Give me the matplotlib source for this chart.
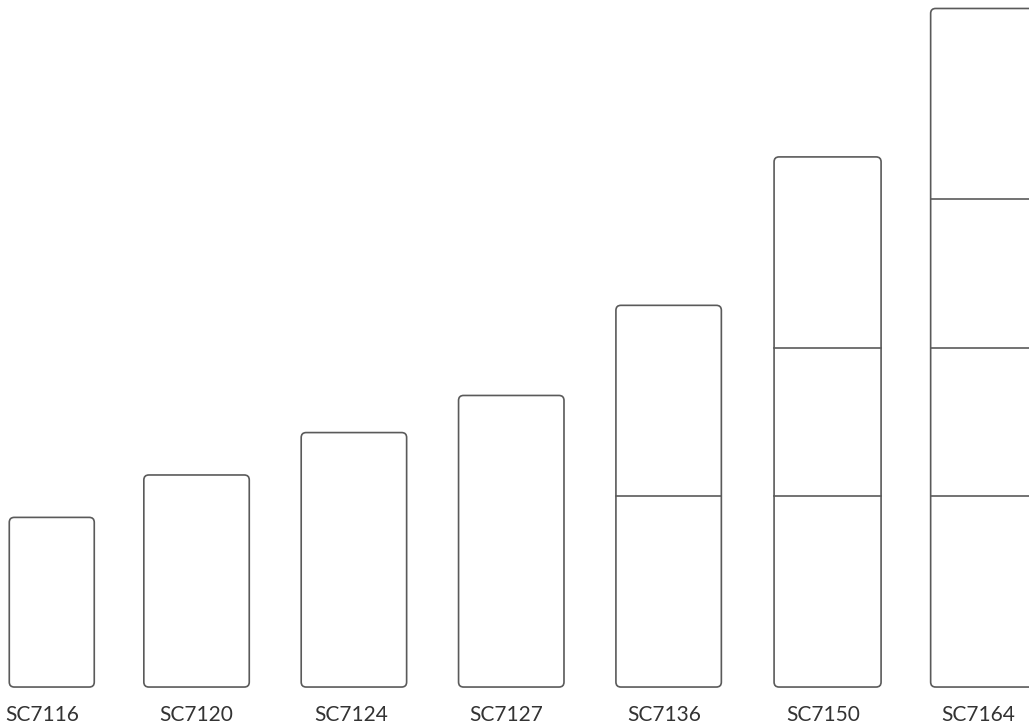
import matplotlib.pyplot as plt
from matplotlib.patches import FancyBboxPatch

# cabinet models and their module heights (units), bottom to top
models = ["SC7116", "SC7120", "SC7124", "SC7127", "SC7136", "SC7150", "SC7164"]
modules = [
    [16],
    [20],
    [24],
    [27.5],
    [18, 18],
    [18, 14, 18],
    [18, 14, 14, 18],
]

# drawing style
line_col = "#5a5a5a"
text_col = "#333333"
widths = [0.54, 0.67, 0.67, 0.67, 0.67, 0.68, 0.67]
shifts = [0.08, 0, 0, 0, 0, 0.01, 0]
label_shifts = [0.02, 0, -0.02, -0.03, -0.03, -0.02, -0.03]

fig = plt.figure(figsize=(10.29, 7.27), dpi=100)
ax = fig.add_axes([0, 0, 1, 1])
ax.set_xlim(-0.249, 6.29)
ax.set_ylim(-3.77, 64.8)
ax.axis("off")

px_x = 1029 / (6.29 + 0.249)
px_y = 727 / (64.8 + 3.77)
r = 5 / px_x

for i, (name, segs) in enumerate(zip(models, modules)):
    w = widths[i]
    cx = i + shifts[i]
    total = sum(segs)
    box = FancyBboxPatch((cx - w / 2, 0), w, total,
                         boxstyle=f"round,pad=0,rounding_size={r}",
                         mutation_aspect=px_x / px_y,
                         fill=False, edgecolor=line_col, linewidth=1.2)
    ax.add_patch(box)
    y = 0
    for s in segs[:-1]:
        y += s
        ax.plot([cx - w / 2, cx + w / 2], [y, y], color=line_col, linewidth=1.2)
    ax.text(i + label_shifts[i], -2.6, name, ha="center", va="center",
            fontsize=15, family="Lato", color=text_col)

fig.savefig("out.png", dpi=100)
